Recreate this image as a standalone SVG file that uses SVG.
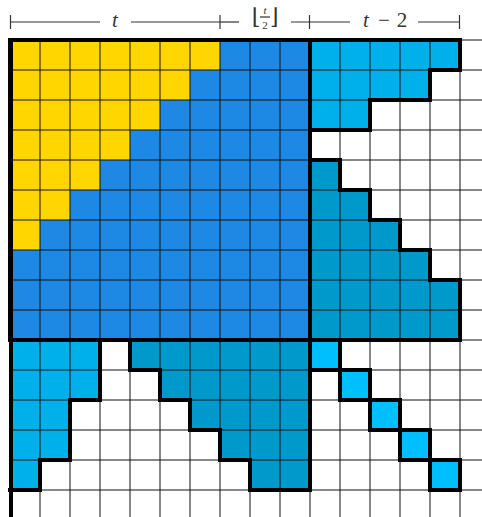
<svg xmlns="http://www.w3.org/2000/svg" width="482" height="517" viewBox="0 0 482 517">
<style>
.y{fill:#FFD600}
.b{fill:#1E88E5}
.lb{fill:#00B0EA}
.db{fill:#0099CC}
.cy{fill:#00BFFF}
.grid line{stroke:#111;stroke-width:1}
.thick{fill:none;stroke:#000;stroke-width:4;stroke-linejoin:miter;stroke-linecap:square}
.ann{stroke:#333;stroke-width:1.2}
.lbl{font-family:"Liberation Serif","DejaVu Serif",serif;fill:#333}
</style>
<rect x="0" y="0" width="482" height="517" fill="#fff"/>
<g id="fills">
  <rect class="b" x="10" y="40" width="300" height="300"/>
  <path class="y" d="M10,40 H220 V70 H190 V100 H160 V130 H130 V160 H100 V190 H70 V220 H40 V250 H10 Z"/>
  <path class="lb" d="M310,40 H460 V70 H430 V100 H370 V130 H310 Z"/>
  <path class="db" d="M310,160 H340 V190 H370 V220 H400 V250 H430 V280 H460 V340 H310 Z"/>
  <path class="lb" d="M10,340 H100 V400 H70 V460 H40 V490 H10 Z"/>
  <path class="db" d="M130,340 H310 V490 H250 V460 H220 V430 H190 V400 H160 V370 H130 Z"/>
  <rect class="cy" x="310" y="340" width="30" height="30"/>
  <rect class="cy" x="340" y="370" width="30" height="30"/>
  <rect class="cy" x="370" y="400" width="30" height="30"/>
  <rect class="cy" x="400" y="430" width="30" height="30"/>
  <rect class="cy" x="430" y="460" width="30" height="30"/>
</g>
<g id="grid" class="grid">
  <line x1="40" y1="40" x2="40" y2="517"/>
  <line x1="70" y1="40" x2="70" y2="517"/>
  <line x1="100" y1="40" x2="100" y2="517"/>
  <line x1="130" y1="40" x2="130" y2="517"/>
  <line x1="160" y1="40" x2="160" y2="517"/>
  <line x1="190" y1="40" x2="190" y2="517"/>
  <line x1="220" y1="40" x2="220" y2="517"/>
  <line x1="250" y1="40" x2="250" y2="517"/>
  <line x1="280" y1="40" x2="280" y2="517"/>
  <line x1="310" y1="40" x2="310" y2="517"/>
  <line x1="340" y1="40" x2="340" y2="517"/>
  <line x1="370" y1="40" x2="370" y2="517"/>
  <line x1="400" y1="40" x2="400" y2="517"/>
  <line x1="430" y1="40" x2="430" y2="517"/>
  <line x1="460" y1="40" x2="460" y2="517"/>
  <line x1="10" y1="40" x2="482" y2="40"/>
  <line x1="10" y1="70" x2="482" y2="70"/>
  <line x1="10" y1="100" x2="482" y2="100"/>
  <line x1="10" y1="130" x2="482" y2="130"/>
  <line x1="10" y1="160" x2="482" y2="160"/>
  <line x1="10" y1="190" x2="482" y2="190"/>
  <line x1="10" y1="220" x2="482" y2="220"/>
  <line x1="10" y1="250" x2="482" y2="250"/>
  <line x1="10" y1="280" x2="482" y2="280"/>
  <line x1="10" y1="310" x2="482" y2="310"/>
  <line x1="10" y1="340" x2="482" y2="340"/>
  <line x1="10" y1="370" x2="482" y2="370"/>
  <line x1="10" y1="400" x2="482" y2="400"/>
  <line x1="10" y1="430" x2="482" y2="430"/>
  <line x1="10" y1="460" x2="482" y2="460"/>
  <line x1="10" y1="490" x2="482" y2="490"/>
</g>
<g id="outlines" class="thick">
  <rect x="10" y="40" width="300" height="300"/>
  <path d="M310,40 H460 V70 H430 V100 H370 V130 H310"/>
  <path d="M310,160 H340 V190 H370 V220 H400 V250 H430 V280 H460 V340 H310"/>
  <path d="M10,340 H100 V400 H70 V460 H40 V490 H10"/>
  <path d="M130,340 V370 H160 V400 H190 V430 H220 V460 H250 V490 H310 V340"/>
  <rect x="310" y="340" width="30" height="30"/>
  <rect x="340" y="370" width="30" height="30"/>
  <rect x="370" y="400" width="30" height="30"/>
  <rect x="400" y="430" width="30" height="30"/>
  <rect x="430" y="460" width="30" height="30"/>
  <line x1="11" y1="40" x2="11" y2="519"/>
</g>
<g id="annotation">
  <line class="ann" x1="10" y1="22" x2="100" y2="22"/>
  <line class="ann" x1="131" y1="22" x2="220" y2="22"/>
  <line class="ann" x1="220" y1="22" x2="239" y2="22"/>
  <line class="ann" x1="291" y1="22" x2="350" y2="22"/>
  <line class="ann" x1="418" y1="22" x2="460" y2="22"/>
  <line class="ann" x1="10.5" y1="15" x2="10.5" y2="29"/>
  <line class="ann" x1="220" y1="15" x2="220" y2="29"/>
  <line class="ann" x1="309.5" y1="15" x2="309.5" y2="29"/>
  <line class="ann" x1="459.5" y1="15" x2="459.5" y2="29"/>
  <text class="lbl" x="115" y="27" font-size="21" font-style="italic" text-anchor="middle">t</text>
  <text class="lbl" x="366" y="27" font-size="21" font-style="italic" text-anchor="middle">t</text>
  <text class="lbl" x="384" y="27" font-size="21" text-anchor="middle">−</text>
  <text class="lbl" x="402" y="27" font-size="21" text-anchor="middle">2</text>
  <text class="lbl" x="256" y="24" font-size="22" text-anchor="middle" font-family="DejaVu Serif, serif">⌊</text>
  <text class="lbl" x="274" y="24" font-size="22" text-anchor="middle" font-family="DejaVu Serif, serif">⌋</text>
  <text class="lbl" x="265" y="14" font-size="11" font-style="italic" text-anchor="middle">t</text>
  <line class="ann" x1="260" y1="17" x2="270" y2="17" stroke-width="0.8"/>
  <text class="lbl" x="265" y="28.5" font-size="11" text-anchor="middle">2</text>
</g>
</svg>
